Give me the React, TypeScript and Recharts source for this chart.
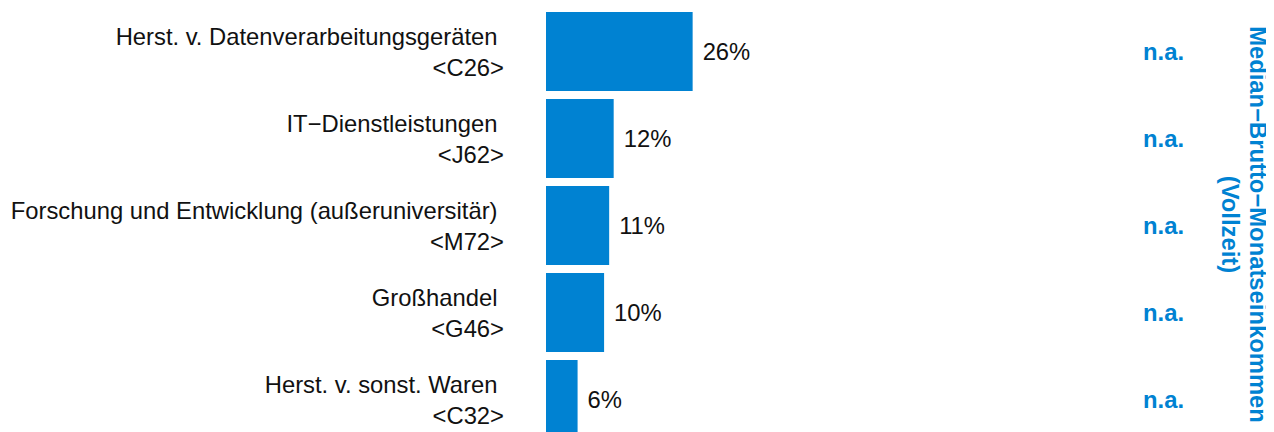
import { BarChart, Bar, XAxis, YAxis, LabelList } from "recharts";

const categories = [
    "Herst. v. Datenverarbeitungsgeräten",
    "IT−Dienstleistungen",
    "Forschung und Entwicklung (außeruniversitär)",
    "Großhandel",
    "Herst. v. sonst. Waren",
];
const codes = ["<C26>", "<J62>", "<M72>", "<G46>", "<C32>"];
const shares = [26.0, 12.0, 11.2, 10.3, 5.6];
const medianIncome = ["n.a.", "n.a.", "n.a.", "n.a.", "n.a."];
const titleLines = ["Median−Brutto−Monatseinkommen", "(Vollzeit)"];

const data = categories.map((name, i) => ({
    name,
    code: codes[i],
    share: shares[i],
    median: medianIncome[i],
}));

const FONT = "'Liberation Sans', Arial, sans-serif";
const BLUE = "#0082D2";
const FS = 23.8;
const CHART_W = 1266;

const CategoryTick = (props: any) => {
    const { x, y, payload } = props;
    const row = data.find((d) => d.name === payload.value);
    return (
        <g fontFamily={FONT} fontSize={FS} fill="#111">
            <text x={x - 6.5} y={y - 7} textAnchor="end">{payload.value}</text>
            <text x={x} y={y + 24} textAnchor="end">{row?.code}</text>
        </g>
    );
};

const MedianTick = (props: any) => {
    const { x, y, payload } = props;
    const row = data.find((d) => d.name === payload.value);
    return (
        <text x={x} y={y} dy="0.355em" textAnchor="start" fontFamily={FONT}
            fontSize={FS} fontWeight="bold" fill={BLUE}>
            {row?.median}
        </text>
    );
};

// rotated two-line title on the right edge
const TitleLabel = () => {
    const bx = CHART_W - 24;
    const cy = 216.5;
    return (
        <text transform={`rotate(90, ${bx}, ${cy})`} x={bx} y={cy} textAnchor="middle"
            fontFamily={FONT} fontSize={FS} fontWeight="bold" fill={BLUE}>
            <tspan x={bx} dy={0}>{titleLines[0]}</tspan>
            <tspan x={bx} dy={28}>{titleLines[1]}</tspan>
        </text>
    );
};

export default function App() {
    return (
        <div style={{ width: CHART_W }}>
            <BarChart
                width={CHART_W}
                height={424}
                data={data}
                layout="vertical"
                margin={{ top: 0, right: 8, bottom: -11, left: 0 }}
                barCategoryGap={4}
                style={{ overflow: "visible" }}
            >
                <XAxis type="number" domain={[0, 100]} hide />
                <YAxis
                    yAxisId="left"
                    type="category"
                    dataKey="name"
                    width={538}
                    axisLine={false}
                    tickLine={false}
                    tickSize={0}
                    tickMargin={42}
                    tick={<CategoryTick />}
                    interval={0}
                />
                <YAxis
                    yAxisId="right"
                    orientation="right"
                    type="category"
                    dataKey="name"
                    width={156}
                    axisLine={false}
                    tickLine={false}
                    tickSize={0}
                    tickMargin={33}
                    tick={<MedianTick />}
                    interval={0}
                    label={<TitleLabel />}
                />
                <Bar yAxisId="left" dataKey="share" fill={BLUE} isAnimationActive={false}>
                    <LabelList
                        dataKey="share"
                        position="right"
                        offset={10}
                        formatter={(v: any) => `${Math.round(Number(v))}%`}
                        fill="#111"
                        fontSize={FS}
                        fontFamily={FONT}
                    />
                </Bar>
            </BarChart>
        </div>
    );
}
